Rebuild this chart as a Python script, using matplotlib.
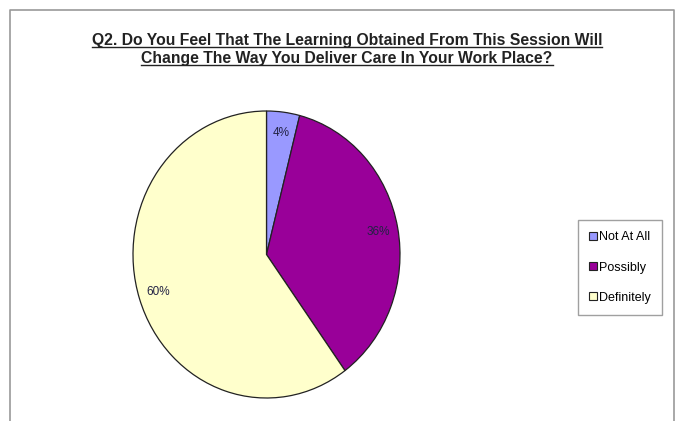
import matplotlib
matplotlib.use('Agg')
import matplotlib.pyplot as plt
from matplotlib.lines import Line2D

# data
labels = ['Not At All', 'Possibly', 'Definitely']
values = [4, 36, 60]
colors = ['#9999FF', '#990099', '#FFFFCC']
title_lines = ['Q2. Do You Feel That The Learning Obtained From This Session Will',
               'Change The Way You Deliver Care In Your Work Place?']

plt.rcParams['font.family'] = ['Liberation Sans', 'DejaVu Sans']

W, H = 681, 421
fig = plt.figure(figsize=(W / 100, H / 100), dpi=100)
fig.patch.set_facecolor('white')

# pie axes (the pie is slightly taller than wide in the original)
ax = fig.add_axes([133 / W, 1 - 398 / H, 267 / W, 287 / H])
wedges, texts, autotexts = ax.pie(values, colors=colors, startangle=90, counterclock=False,
                                  autopct='%1.0f%%', pctdistance=0.85,
                                  wedgeprops=dict(edgecolor='#222222', linewidth=0.9))
for t in autotexts:
    t.set_fontsize(8.5)
    t.set_color('#222244')
ax.set_aspect('auto')
ax.set_xlim(-1.0, 1.0)
ax.set_ylim(-1.0, 1.0)
ax.axis('off')

# legend
leg = fig.legend(wedges, labels, loc='center left', bbox_to_anchor=(578 / W, 1 - 267.5 / H),
                 fontsize=9, frameon=True, fancybox=False, edgecolor='#888888',
                 labelspacing=1.45, handlelength=0.6, handleheight=0.6, handletextpad=0.15,
                 borderpad=0.9, borderaxespad=0)
leg.get_frame().set_linewidth(1.0)
for h in leg.legend_handles:
    h.set_edgecolor('#222222')
    h.set_linewidth(0.8)

# title, two lines, bold and underlined
tlist = []
for i, line in enumerate(title_lines):
    t = fig.text(347 / W, 1 - (41 + 18 * i) / H, line, ha='center', va='center',
                 fontsize=11.3, fontweight='bold', color='#222222')
    tlist.append(t)
fig.canvas.draw()
r = fig.canvas.get_renderer()
for t in tlist:
    bb = t.get_window_extent(r).transformed(fig.transFigure.inverted())
    fig.add_artist(Line2D([bb.x0, bb.x1], [bb.y0 + 0.003, bb.y0 + 0.003],
                          transform=fig.transFigure, color='#222222', lw=1.0))

# chart area border (bottom edge cut off)
bc = '#999999'
fig.add_artist(Line2D([10 / W, 10 / W, 674 / W, 674 / W], [0, 1 - 10 / H, 1 - 10 / H, 0],
                      transform=fig.transFigure, color=bc, lw=1.2))

fig.savefig('out.png', dpi=100)
